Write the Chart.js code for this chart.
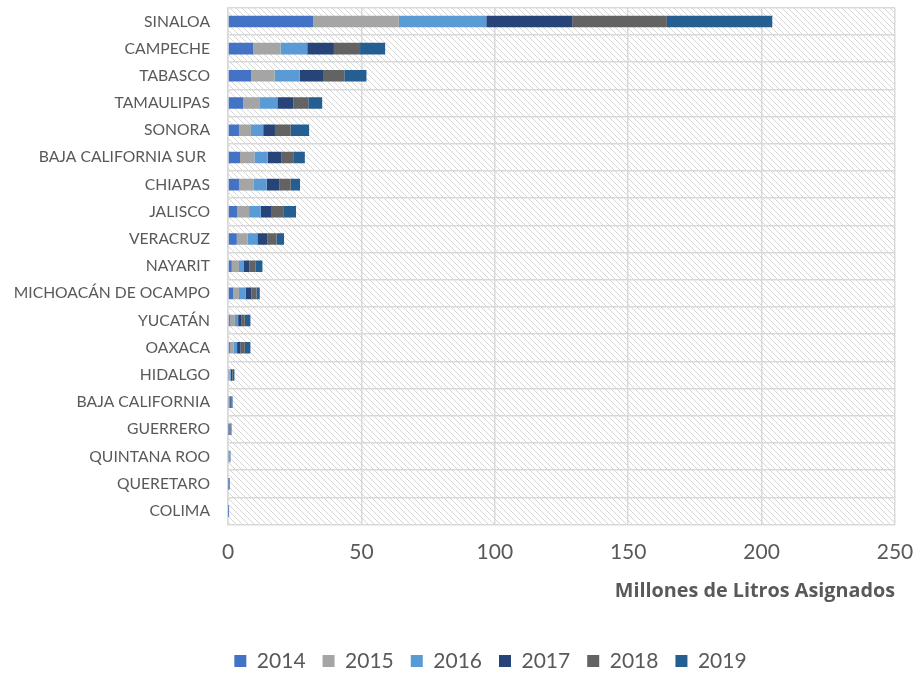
<!DOCTYPE html>
<html>
<head>
<meta charset="utf-8">
<script src="https://cdn.jsdelivr.net/npm/chart.js@4.4.0/dist/chart.umd.min.js"></script>
<style>
  html, body { margin: 0; padding: 0; background: #fff; }
  #wrap { width: 918px; height: 675px; }
</style>
</head>
<body>
<div id="wrap"><canvas id="aguaChart"></canvas></div>
<script>
const estados = ['SINALOA', 'CAMPECHE', 'TABASCO', 'TAMAULIPAS', 'SONORA', 'BAJA CALIFORNIA SUR ',
    'CHIAPAS', 'JALISCO', 'VERACRUZ', 'NAYARIT', 'MICHOACÁN DE OCAMPO', 'YUCATÁN', 'OAXACA',
    'HIDALGO', 'BAJA CALIFORNIA', 'GUERRERO', 'QUINTANA ROO', 'QUERETARO', 'COLIMA'];

const v2014 = [31.9, 9.4, 8.7, 5.7, 4.1, 4.5, 4.1, 3.5, 3.3, 1.4, 2.0, 0.7, 0.7, 0.2, 0.2, 0.1, 0.2, 0.1, 0.05];
const v2015 = [32.1, 10.3, 8.8, 6.3, 4.5, 5.4, 5.4, 4.4, 4.0, 2.7, 2.1, 1.9, 1.5, 0.5, 0.2, 0.2, 0.1, 0.1, 0.1];
const v2016 = [32.8, 10.0, 9.4, 6.5, 4.6, 5.0, 5.0, 4.4, 3.7, 1.9, 2.6, 1.2, 1.2, 0.3, 0.4, 0.2, 0.2, 0.1, 0.1];
const v2017 = [32.2, 10.0, 8.7, 6.0, 4.4, 5.2, 4.7, 4.1, 3.7, 2.0, 2.1, 1.3, 1.3, 0.5, 0.3, 0.3, 0.1, 0.1, 0.05];
const v2018 = [35.5, 9.8, 8.0, 5.6, 5.9, 4.6, 4.3, 4.3, 3.5, 2.4, 1.9, 1.2, 1.6, 0.3, 0.3, 0.2, 0.1, 0.2, 0.05];
const v2019 = [39.5, 9.4, 8.3, 5.2, 6.9, 4.1, 3.5, 4.8, 2.8, 2.5, 1.2, 2.1, 2.1, 0.6, 0.3, 0.3, 0.2, 0.1, 0.05];

const xTicks = [0, 50, 100, 150, 200, 250];

const textColor = '#595959';
const gridColor = '#d9d9d9';
const fontFamily = 'Lato, "Open Sans", sans-serif';

// diagonal hatch behind the bars
function makeHatch() {
    const c = document.createElement('canvas');
    c.width = 6; c.height = 6;
    const g = c.getContext('2d');
    g.strokeStyle = '#d6d6d6';
    g.lineWidth = 1;
    g.beginPath();
    g.moveTo(0, 0); g.lineTo(6, 6);
    g.moveTo(-3, 3); g.lineTo(3, 9);
    g.moveTo(3, -3); g.lineTo(9, 3);
    g.stroke();
    return g.createPattern(c, 'repeat');
}

const hatchPlugin = {
    id: 'hatch',
    afterLayout(chart) {
        // Excel centres the legend a bit to the right of the canvas centre
        if (chart.legend) {
            chart.legend.left += 43;
            chart.legend.right += 43;
        }
    },
    beforeDraw(chart) {
        const { ctx, chartArea } = chart;
        ctx.save();
        ctx.fillStyle = makeHatch();
        ctx.fillRect(chartArea.left, chartArea.top, chartArea.right - chartArea.left, chartArea.bottom - chartArea.top);
        ctx.restore();
    }
};

function serie(label, data, color) {
    return {
        label: label,
        data: data,
        backgroundColor: color,
        borderWidth: 0,
        categoryPercentage: 0.5,
        barPercentage: 0.85
    };
}

const ctx = document.getElementById('aguaChart').getContext('2d');
const aguaChart = new Chart(ctx, {
    type: 'bar',
    data: {
        labels: estados,
        datasets: [
            serie('2014', v2014, '#4472C4'),
            serie('2015', v2015, '#A5A5A5'),
            serie('2016', v2016, '#5B9BD5'),
            serie('2017', v2017, '#264478'),
            serie('2018', v2018, '#636363'),
            serie('2019', v2019, '#255E91')
        ]
    },
    plugins: [hatchPlugin],
    options: {
        indexAxis: 'y',
        responsive: true,
        maintainAspectRatio: false,
        animation: false,
        layout: { padding: { top: 7, right: 23, bottom: -6.5, left: 0 } },
        plugins: {
            legend: {
                position: 'bottom',
                labels: {
                    color: textColor,
                    font: { family: fontFamily, size: 21 },
                    boxWidth: 12,
                    boxHeight: 12,
                    padding: 17
                }
            },
            tooltip: { enabled: false }
        },
        scales: {
            x: {
                stacked: true,
                min: 0,
                max: 250,
                afterBuildTicks: function (scale) {
                    scale.ticks = xTicks.map(function (v) { return { value: v }; });
                },
                afterFit: function (scale) { scale.height = 109; },
                grid: { color: gridColor, lineWidth: 1.5, drawTicks: true, tickLength: 15, tickColor: 'transparent' },
                border: { display: false },
                ticks: {
                    color: textColor,
                    font: { family: fontFamily, size: 21 },
                    padding: 0
                },
                title: {
                    display: true,
                    text: 'Millones de Litros Asignados',
                    align: 'end',
                    color: textColor,
                    font: { family: '"Open Sans", sans-serif', size: 19.8, weight: 'bold' },
                    padding: { top: 0, bottom: 30 }
                }
            },
            y: {
                stacked: true,
                afterFit: function (scale) { scale.width = 228; },
                grid: { color: gridColor, lineWidth: 1.5, drawTicks: true, tickLength: 18, tickColor: 'transparent' },
                border: { color: gridColor, width: 1.5 },
                ticks: {
                    color: textColor,
                    font: { family: fontFamily, size: 15.7, lineHeight: 1 },
                    padding: 0,
                    autoSkip: false
                }
            }
        }
    }
});
</script>
</body>
</html>
